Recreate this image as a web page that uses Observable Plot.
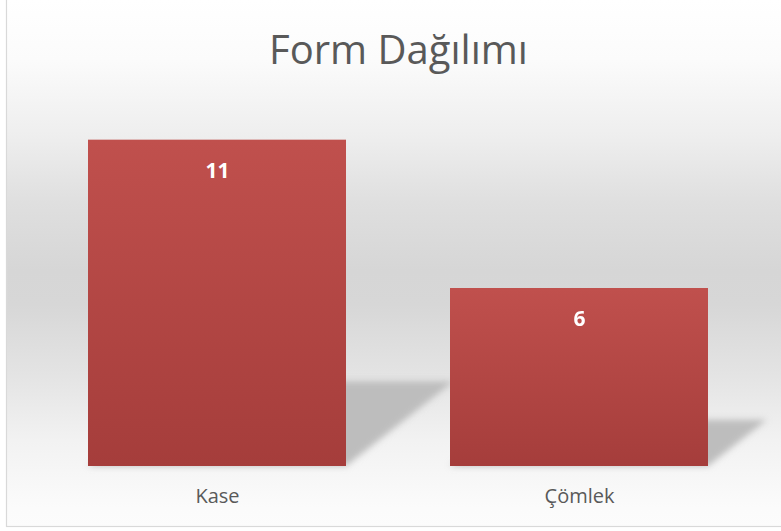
<!DOCTYPE html>
<html><head><meta charset="utf-8">
<script src="https://cdn.jsdelivr.net/npm/d3@7"></script>
<script src="https://cdn.jsdelivr.net/npm/@observablehq/plot@0.6"></script>
<style>html,body{margin:0;padding:0;background:#fff;} svg{display:block}</style>
</head><body><div id="chart"></div>
<script>
const title = "Form Dağılımı";
const categories = ["Kase", "Çömlek"];
const values = [11, 6];
const yMax = 12;

const data = categories.map((c, i) => ({category: c, value: values[i]}));

const shadowRender = (index, scales, vals, dims, ctx, next) => {
  const g = next(index, scales, vals, dims, ctx);
  d3.select(g).selectAll("rect").each(function () {
    const r = d3.select(this);
    const y0 = +r.attr("y") + +r.attr("height");
    r.attr("transform", `translate(0,${y0}) matrix(1,0,-0.33,0.26,0,0) translate(0,${-y0})`);
  });
  d3.select(g).attr("filter", "url(#shadowBlur)");
  return g;
};

const chart = Plot.plot({
  width: 781, height: 531,
  marginLeft: 36, marginRight: 21, marginTop: 110, marginBottom: 65,
  style: {fontFamily: "'Open Sans', sans-serif", background: "transparent", overflow: "visible"},
  x: {domain: categories, paddingInner: 0.287, paddingOuter: 0.1435, label: null},
  y: {domain: [0, yMax], axis: null},
  marks: [
    Plot.barY(data, {x: "category", y: "value", fill: "#bdbdbd", render: shadowRender}),
    Plot.barY(data, {x: "category", y: "value", fill: "url(#barGrad)"}),
    Plot.text(data, {x: "category", y: "value", text: d => String(d.value), dy: 31, fill: "white", fontSize: 21, fontWeight: "bold"}),
    Plot.axisX({tickSize: 0, tickPadding: 22, fontSize: 20, color: "#595959", label: null}),
    Plot.text([title], {text: d => d, frameAnchor: "top", lineAnchor: "bottom", dy: -47, fontSize: 40, fill: "#595959"})
  ]
});

const svg = d3.select(chart);
const defs = svg.insert("defs", ":first-child");
const bg = defs.append("linearGradient").attr("id", "bgGrad")
  .attr("gradientUnits", "userSpaceOnUse").attr("x1", 0).attr("y1", 0).attr("x2", 0).attr("y2", 531);
[[0, "#ffffff"], [0.113, "#fbfbfb"], [0.256, "#eeeeee"], [0.382, "#dfdfdf"], [0.51, "#d6d6d6"],
 [0.574, "#d7d7d7"], [0.70, "#e3e3e3"], [0.83, "#f2f2f2"], [0.957, "#fbfbfb"], [1, "#fcfcfc"]]
  .forEach(([o, c]) => bg.append("stop").attr("offset", o).attr("stop-color", c));
const bar = defs.append("linearGradient").attr("id", "barGrad")
  .attr("x1", 0).attr("y1", 0).attr("x2", 0).attr("y2", 1);
bar.append("stop").attr("offset", 0).attr("stop-color", "#C0504D");
bar.append("stop").attr("offset", 1).attr("stop-color", "#A53D3B");
defs.append("filter").attr("id", "shadowBlur").attr("x", "-20%").attr("y", "-20%").attr("width", "140%").attr("height", "140%")
  .append("feGaussianBlur").attr("stdDeviation", 3);

svg.insert("rect", "defs + *")
  .attr("x", 6.5).attr("y", -5).attr("width", 800).attr("height", 531.5)
  .attr("fill", "url(#bgGrad)").attr("stroke", "#d9d9d9").attr("stroke-width", 1.2);

document.getElementById("chart").appendChild(chart);
</script>
</body></html>
